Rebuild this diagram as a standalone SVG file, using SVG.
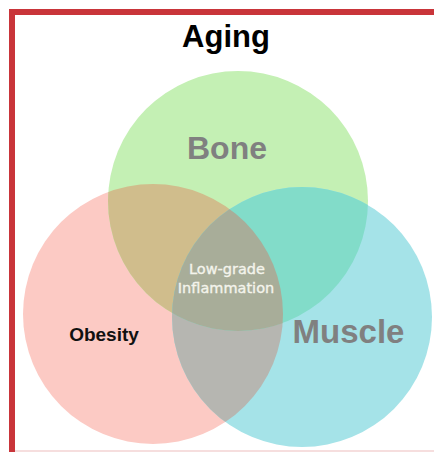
<svg xmlns="http://www.w3.org/2000/svg" width="434" height="452" viewBox="0 0 434 452">
<style>
.lbl{font-family:"Liberation Sans",Arial,sans-serif;font-weight:bold;text-anchor:middle}
.big{fill:#808080}
.mid{font-family:"DejaVu Sans",sans-serif;font-size:14.5px;fill:#f4f4ec;stroke:#f4f4ec;stroke-width:0.35;text-anchor:middle}
</style>
<defs>
<circle id="cB" cx="238" cy="201" r="130"/>
<circle id="cO" cx="153" cy="314" r="130"/>
<circle id="cM" cx="302" cy="317" r="130"/>
<clipPath id="kB"><use href="#cB"/></clipPath>
<clipPath id="kO"><use href="#cO"/></clipPath>
<clipPath id="kM"><use href="#cM"/></clipPath>
</defs>
<rect width="434" height="452" fill="#ffffff"/>
<rect x="9" y="9" width="425" height="6" fill="#c9353a"/>
<rect x="9" y="9" width="6" height="443" fill="#c9353a"/>
<rect x="15" y="450" width="419" height="2" fill="#f6dede"/>
<g id="circles">
<use href="#cO" fill="#fccac4"/>
<use href="#cB" fill="#c4f0b4"/>
<use href="#cM" fill="#a5e3e8"/>
<use href="#cB" clip-path="url(#kO)" fill="#d0bd8c"/>
<use href="#cM" clip-path="url(#kO)" fill="#b6b6b1"/>
<use href="#cM" clip-path="url(#kB)" fill="#82dcc9"/>
<g clip-path="url(#kO)"><use href="#cM" clip-path="url(#kB)" fill="#a8ad99"/></g>
</g>
<g id="aging">
<text class="lbl" x="226" y="47" font-size="31" fill="#000">Aging</text>
</g>
<g id="bone">
<text class="lbl big" x="227" y="159" font-size="32">Bone</text>
</g>
<g id="obesity">
<text class="lbl" x="104" y="341" font-size="19" fill="#111">Obesity</text>
</g>
<g id="muscle">
<text class="lbl big" x="348.5" y="343" font-size="33">Muscle</text>
</g>
<g id="inflammation">
<text class="mid" x="227" y="274">Low-grade</text>
<text class="mid" x="226" y="293">Inflammation</text>
</g>
<g id="connectors"/>
</svg>
